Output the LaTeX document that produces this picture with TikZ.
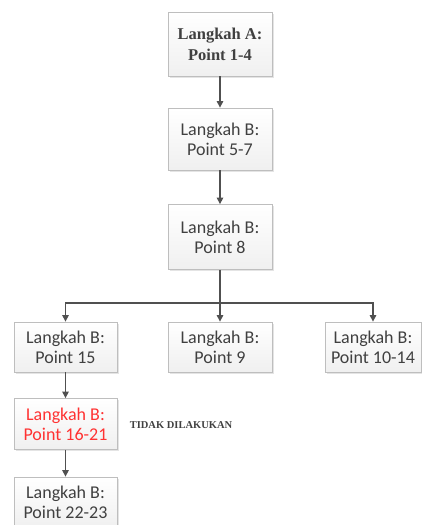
\documentclass[tikz,border=0pt]{standalone}
\usepackage{fontspec}
\setmainfont{Liberation Serif}
\newfontfamily\stepfont{Carlito}
\usetikzlibrary{arrows.meta,shadows}
\definecolor{boxline}{RGB}{190,190,190}
\definecolor{boxtext}{RGB}{64,64,64}
\definecolor{linkgray}{RGB}{80,80,80}
\definecolor{skipred}{RGB}{255,50,50}
\tikzset{
  stepbox/.style={draw=boxline, line width=0.8pt, top color=white, bottom color=gray!12,
    drop shadow={shadow xshift=1.5pt, shadow yshift=-1.5pt, fill=gray!35, opacity=0.6},
    align=center, text=boxtext, inner sep=0pt,
    font=\stepfont\fontsize{18}{20}\selectfont},
  link/.style={draw=linkgray, line width=1.2pt, -{Triangle[length=6.5pt,width=6.5pt]}}
}
\begin{document}
\begin{tikzpicture}[x=1pt,y=-1pt]
	\useasboundingbox (0,0) rectangle (422,525);
	\node[stepbox, minimum width=104pt, minimum height=64pt,
	      font=\bfseries\fontsize{16.5}{21}\selectfont] (a) at (220,44) {Langkah A:\\Point 1-4};
	\node[stepbox, minimum width=104pt, minimum height=62pt] (b1) at (220,139) {Langkah B:\\Point 5-7};
	\node[stepbox, minimum width=104pt, minimum height=65pt] (b8) at (220,237) {Langkah B:\\Point 8};
	\node[stepbox, minimum width=103pt, minimum height=50pt] (b15) at (65.5,347) {Langkah B:\\Point 15};
	\node[stepbox, minimum width=104pt, minimum height=50pt] (b9) at (220,347) {Langkah B:\\Point 9};
	\node[stepbox, minimum width=96pt, minimum height=50pt] (b10) at (373,347) {Langkah B:\\Point 10-14};
	\node[stepbox, minimum width=103pt, minimum height=51pt, text=skipred] (b16) at (65.5,424) {Langkah B:\\Point 16-21};
	\node[stepbox, minimum width=103pt, minimum height=50pt] (b22) at (65.5,502) {Langkah B:\\Point 22-23};
	\node[text=boxtext, font=\bfseries\fontsize{10.5}{12}\selectfont] (skip) at (181,425) {TIDAK DILAKUKAN};
	\coordinate (split) at (220,303);
	% vertical chain
	\draw[link] (a) -- (b1);
	\draw[link] (b1) -- (b8);
	\draw[link] (b8) -- (b9);
	\draw[link] (split) -| (b15);
	\draw[link] (split) -| (b10);
	\draw[link] (b15) -- (b16);
	\draw[link] (b16) -- (b22);
\end{tikzpicture}
\end{document}
